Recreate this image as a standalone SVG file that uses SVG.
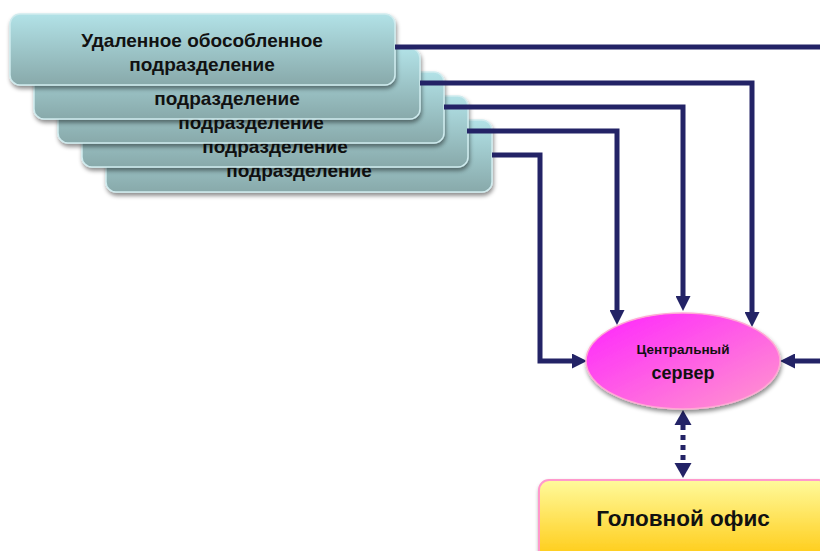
<svg xmlns="http://www.w3.org/2000/svg" width="820" height="551" viewBox="0 0 820 551">
<style>
.box{fill:url(#gBox);stroke:#CFEBEE;stroke-width:1.5;filter:url(#sh)}
.bt{font-family:"Liberation Sans",Arial,sans-serif;font-weight:bold;font-size:19px;fill:#111;text-anchor:middle}
.ln{fill:none;stroke:#232366;stroke-width:5}
.lnd{fill:none;stroke:#232366;stroke-width:5;stroke-dasharray:5 5}
</style>
<defs>
<linearGradient id="gBox" x1="0" y1="0" x2="0" y2="1">
<stop offset="0" stop-color="#B2E2E7"/>
<stop offset="1" stop-color="#88A9AA"/>
</linearGradient>
<linearGradient id="gEl" x1="0" y1="0" x2="1" y2="1">
<stop offset="0" stop-color="#FF22FF"/>
<stop offset="1" stop-color="#FF99CC"/>
</linearGradient>
<linearGradient id="gHo" x1="0" y1="0" x2="0" y2="1">
<stop offset="0" stop-color="#FFFA9C"/>
<stop offset="1" stop-color="#FFC400"/>
</linearGradient>
<filter id="sh" x="-10%" y="-10%" width="130%" height="140%">
<feDropShadow dx="1" dy="3" stdDeviation="2" flood-color="#000" flood-opacity="0.45"/>
</filter>
<marker id="ah" viewBox="0 0 10 10" refX="0" refY="5" markerWidth="3" markerHeight="3" orient="auto" markerUnits="strokeWidth">
<path d="M0,0 L10,5 L0,10 z" fill="#232366"/>
</marker>
</defs>
<g id="unit5"><rect class="box" x="106" y="120" width="386" height="72" rx="10"/><text class="bt" x="299" y="177">подразделение</text></g>
<g id="unit4"><rect class="box" x="82" y="96" width="386" height="71" rx="10"/><text class="bt" x="275" y="153">подразделение</text></g>
<g id="unit3"><rect class="box" x="58" y="72" width="386" height="71" rx="10"/><text class="bt" x="251" y="129">подразделение</text></g>
<g id="unit2"><rect class="box" x="34" y="48" width="386" height="71" rx="10"/><text class="bt" x="227" y="105">подразделение</text></g>
<g id="unit1"><rect class="box" x="10" y="14" width="385" height="71" rx="10"/><text class="bt" x="202" y="47">Удаленное обособленное</text><text class="bt" x="202" y="71">подразделение</text></g>
<g id="connectors">
<path class="ln" d="M395,47 H820"/>
<path class="ln" d="M420,83 H752 V312" marker-end="url(#ah)"/>
<path class="ln" d="M444,107 H683 V296" marker-end="url(#ah)"/>
<path class="ln" d="M467,131 H617 V310" marker-end="url(#ah)"/>
<path class="ln" d="M492,155 H540 V361 H572" marker-end="url(#ah)"/>
<path class="ln" d="M820,361 H795" marker-end="url(#ah)"/>
<path class="lnd" d="M683,425 V463"/>
<path d="M683,410 L674.5,425 L691.5,425 z" fill="#232366"/>
<path d="M683,478 L674.5,463 L691.5,463 z" fill="#232366"/>
</g>
<g id="server">
<ellipse cx="683" cy="361" rx="97" ry="48" fill="url(#gEl)" stroke="#FFAAD4" stroke-width="1.5" filter="url(#sh)"/>
<text class="bt" x="683" y="354" style="font-size:13.5px">Центральный</text>
<text class="bt" x="683" y="379" style="font-size:18px">сервер</text>
</g>
<g id="headoffice">
<rect x="539" y="480" width="290" height="90" rx="10" fill="url(#gHo)" stroke="#FF99CC" stroke-width="2" filter="url(#sh)"/>
<text class="bt" x="683" y="526" style="font-size:22.5px">Головной офис</text>
</g>
</svg>
